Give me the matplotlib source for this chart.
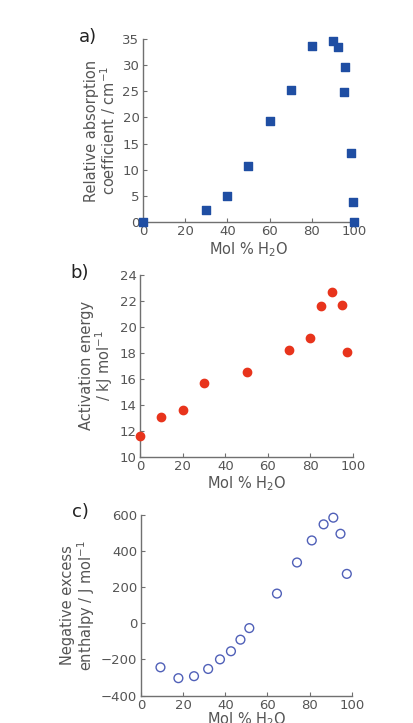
import matplotlib
matplotlib.use("Agg")
import matplotlib.pyplot as plt

# a) relative absorption coefficient
mol_a = [0, 30, 40, 50, 60, 70, 80, 90, 92.5, 95.5, 96, 98.5, 99.4, 100]
absorb = [0, 2.2, 5.0, 10.8, 19.3, 25.3, 33.7, 34.7, 33.5, 24.8, 29.6, 13.1, 3.9, 0]

# b) activation energy
mol_b = [0, 10, 20, 30, 50, 70, 80, 85, 90, 95, 97.3]
act_e = [11.6, 13.1, 13.6, 15.7, 16.5, 18.2, 19.15, 21.6, 22.7, 21.7, 18.1]

# c) negative excess enthalpy
mol_c = [9.3, 17.8, 25.2, 31.9, 37.5, 42.7, 47.2, 51.4, 64.5, 74, 81, 86.6, 91.2, 94.6, 97.6]
enth = [-244, -304, -293, -253, -200, -155, -91, -27, 164, 336, 458, 547, 584, 495, 273]

GRAY = "#707070"
TXT = "#555555"

fig = plt.figure(figsize=(4.13, 7.23), dpi=100)
ax_a = fig.add_axes([0.346, 0.693, 0.511, 0.253])
ax_b = fig.add_axes([0.339, 0.368, 0.516, 0.252])
ax_c = fig.add_axes([0.341, 0.038, 0.511, 0.250])

ax_a.scatter(mol_a, absorb, marker="s", s=34, color="#1f4ea3", clip_on=False, zorder=3)
ax_b.scatter(mol_b, act_e, marker="o", s=36, color="#e8341c", clip_on=False, zorder=3)
ax_c.scatter(mol_c, enth, marker="o", s=40, facecolors="none", edgecolors="#5060b8",
             linewidths=1.0, clip_on=False, zorder=3)

ax_a.set_xlim(0, 100); ax_a.set_ylim(0, 35)
ax_a.set_yticks(range(0, 36, 5)); ax_a.set_xticks(range(0, 101, 20))
ax_b.set_xlim(0, 100); ax_b.set_ylim(10, 24)
ax_b.set_yticks(range(10, 25, 2)); ax_b.set_xticks(range(0, 101, 20))
ax_c.set_xlim(0, 100); ax_c.set_ylim(-400, 600)
ax_c.set_yticks(range(-400, 601, 200)); ax_c.set_xticks(range(0, 101, 20))

for ax in (ax_a, ax_b, ax_c):
    for s in ("top", "right"):
        ax.spines[s].set_visible(False)
    for s in ("left", "bottom"):
        ax.spines[s].set_color(GRAY)
        ax.spines[s].set_linewidth(1.0)
    ax.tick_params(direction="in", length=3, width=0.8, color=GRAY,
                   labelsize=9.5, labelcolor=TXT, pad=2.5)
    ax.set_xlabel("Mol % H$_2$O", fontsize=10.5, color=TXT, labelpad=1)
ax_c.xaxis.labelpad = -1

ax_a.set_ylabel("Relative absorption\ncoefficient / cm$^{-1}$", fontsize=10.5,
                color=TXT, labelpad=3, linespacing=1.0)
ax_b.set_ylabel("Activation energy\n/ kJ mol$^{-1}$", fontsize=10.5,
                color=TXT, labelpad=3, linespacing=1.0)
ax_c.set_ylabel("Negative excess\nenthalpy / J mol$^{-1}$", fontsize=10.5,
                color=TXT, labelpad=3, linespacing=1.0)

fig.text(0.19, 0.942, "a)", fontsize=13, color="#222222")
fig.text(0.17, 0.616, "b)", fontsize=13, color="#222222")
fig.text(0.175, 0.285, "c)", fontsize=13, color="#222222")

fig.savefig("out.png", dpi=100)
